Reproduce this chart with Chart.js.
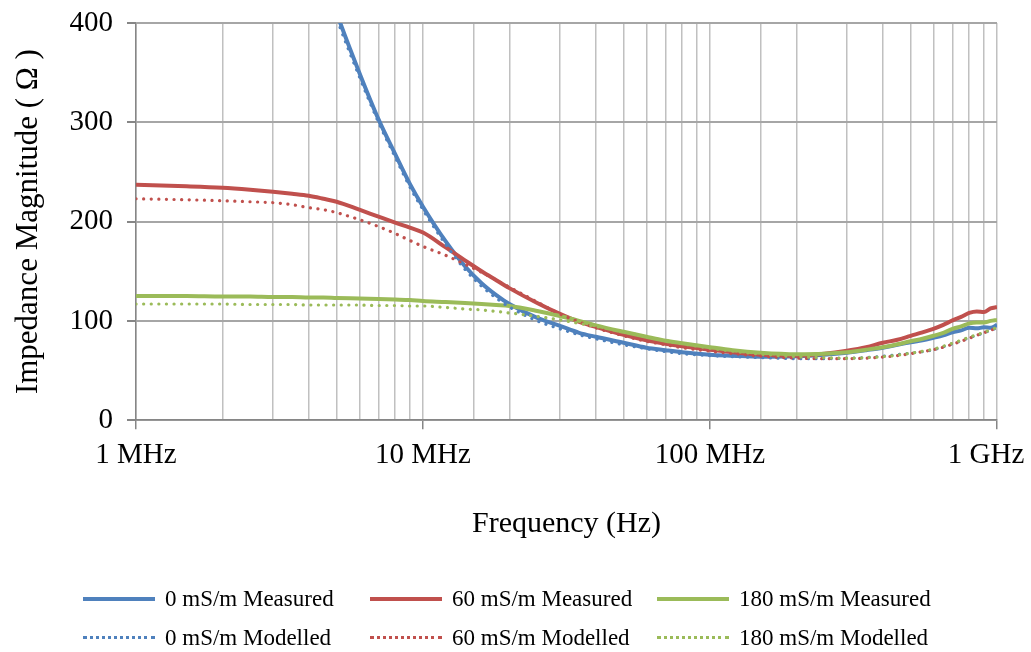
<!DOCTYPE html>
<html>
<head>
<meta charset="utf-8">
<script src="https://cdn.jsdelivr.net/npm/chart.js@4/dist/chart.umd.min.js"></script>
<style>
  html, body { margin: 0; padding: 0; background: #fff; }
  #wrap { position: relative; width: 1031px; height: 652px; }
  #legend {
    position: absolute; left: 83px; top: 586px;
    display: grid; grid-template-columns: 287px 287px 287px;
    row-gap: 14px;
    font-family: "Liberation Serif", "Times New Roman", serif;
    font-size: 23px; color: #000;
  }
  .item { display: flex; align-items: center; height: 25px; white-space: nowrap; }
  .mark { width: 72px; margin-right: 10px; }
  .solid { border-top: 4px solid; }
  .dotted { border-top: 3px dotted; }
</style>
</head>
<body>
<div id="wrap">
  <canvas id="chart" width="1031" height="652"></canvas>
  <div id="legend"></div>
</div>
<script>
"use strict";

// frequency in MHz (log axis)
const freqMHz = [1, 1.5, 2, 2.5, 3, 3.5, 4, 4.5, 5, 6, 7, 8, 9, 10, 12, 14, 16, 18, 20, 25, 30, 35, 40, 50, 60, 70, 80, 100, 120, 150,
  200, 250, 300, 350, 400, 450, 500, 550, 600, 650, 700, 750, 800, 850, 900, 950, 1000];

const measured0 = [null, null, null, null, null, null, 495, 448, 410, 350, 303, 268, 238, 215, 180, 155, 138, 126, 117, 103, 95, 88, 84, 78, 73, 70.5, 68.5, 66, 65, 64,
  64.5, 66, 68, 70.5, 73, 76, 78.5, 80.5, 83, 85.5, 88.5, 90.5, 93, 92.5, 93.5, 93, 96];
const measured60 = [237, 235.5, 234, 232, 230, 228, 226, 223, 220, 212, 205, 199, 194, 189, 174, 161, 150, 141, 133, 118, 107, 99, 94, 86, 80.5, 77, 74.5, 71, 68.5, 66,
  65, 67, 70, 73.5, 78, 81, 85, 88.5, 92, 96, 100.5, 104, 108, 109.5, 109, 112.5, 114];
const measured180 = [125, 125, 124.5, 124.5, 124, 124, 123.5, 123.5, 123, 122.5, 122, 121.5, 121, 120, 119, 118, 117, 116, 115, 110, 105, 100, 95.5, 89, 84, 80, 77.5, 73.5, 70.5, 68,
  66.5, 67, 68.5, 71, 73.5, 76.5, 79.5, 82, 85, 88, 92, 94.5, 97.5, 98.5, 98.5, 100, 101];

const modelled0 = [null, null, null, null, null, null, 490, 444, 405, 346, 300, 265, 235, 212, 177, 152, 135, 123, 114, 100, 92, 86, 82, 76, 72, 69, 67, 65, 64, 63,
  62, 62, 62.5, 63, 64.5, 66, 67.5, 69, 71, 74, 77, 80, 83, 85.5, 88, 90.5, 93];
const modelled60 = [223, 222, 221, 220, 219, 217, 214, 212, 209, 202, 195, 188, 181, 175, 166, 157, 149, 141, 134, 119, 107, 99, 93, 85, 79.5, 76, 73, 69.5, 67, 64.5,
  62.5, 62, 62, 62.5, 63.5, 65, 67, 69, 71, 73.5, 76.5, 79.5, 82.5, 85.5, 88, 90.5, 93];
const modelled180 = [117, 117, 117, 116.5, 116.5, 116.5, 116, 116, 116, 116, 115.5, 115.5, 115, 115, 113.5, 112, 111, 109.5, 108, 104.5, 101, 97.5, 94.5, 89, 84, 80, 77, 72.5, 69.5, 66.5,
  64, 63, 62.5, 63, 64, 65.5, 67.5, 69.5, 71.5, 74.5, 77.5, 80.5, 83.5, 86, 88.5, 91, 93.5];

const seriesNames = ["0 mS/m Measured", "60 mS/m Measured", "180 mS/m Measured",
  "0 mS/m Modelled", "60 mS/m Modelled", "180 mS/m Modelled"];
const seriesColors = ["#4F81BD", "#C0504D", "#9BBB59", "#4F81BD", "#C0504D", "#9BBB59"];
const seriesValues = [measured0, measured60, measured180, modelled0, modelled60, modelled180];

const xTickLabels = { 1: "1 MHz", 10: "10 MHz", 100: "100 MHz", 1000: "1 GHz   " };
const yTicks = [0, 100, 200, 300, 400];

const FONT = "'Liberation Serif', 'Times New Roman', serif";

function toPoints(values) {
  return freqMHz.map((f, i) => ({ x: f, y: values[i] }));
}

const datasets = seriesValues.map((values, i) => {
  const dotted = i >= 3;
  return {
    label: seriesNames[i],
    data: toPoints(values),
    borderColor: seriesColors[i],
    backgroundColor: seriesColors[i],
    borderWidth: dotted ? 3.2 : 4,
    borderDash: dotted ? [0.1, 7.5] : [],
    borderCapStyle: dotted ? "round" : "butt",
    pointRadius: 0,
    cubicInterpolationMode: "monotone",
    spanGaps: false,
    order: 6 - i
  };
});

const isDecade = v => Math.abs(Math.log10(v) - Math.round(Math.log10(v))) < 1e-9;

new Chart(document.getElementById("chart"), {
  type: "line",
  data: { datasets: datasets },
  options: {
    responsive: false,
    animation: false,
    layout: { padding: { top: 23, right: 34, bottom: 110, left: 0 } },
    plugins: { legend: { display: false }, tooltip: { enabled: false } },
    scales: {
      x: {
        type: "logarithmic",
        min: 1,
        max: 1000,
        border: { color: "#868686", width: 1.5 },
        grid: {
          color: "#c0c0c0",
          lineWidth: 1.5,
          tickLength: 9,
          tickColor: ctx => isDecade(ctx.tick.value) ? "#868686" : "rgba(0,0,0,0)"
        },
        ticks: {
          autoSkip: false,
          maxRotation: 0,
          padding: 9,
          color: "#000",
          font: { family: FONT, size: 29 },
          callback: function (value) {
            return xTickLabels[value] !== undefined && isDecade(value) ? xTickLabels[value] : "";
          }
        },
        title: {
          display: true,
          text: "Frequency (Hz)",
          color: "#000",
          font: { family: FONT, size: 30 },
          padding: { top: 24, bottom: 0 }
        },
        afterFit: scale => { scale.paddingRight = 0; }
      },
      y: {
        min: 0,
        max: 400,
        afterBuildTicks: scale => { scale.ticks = yTicks.map(v => ({ value: v })); },
        border: { color: "#868686", width: 1.5 },
        grid: {
          color: "#a6a6a6",
          lineWidth: 2,
          tickLength: 9,
          tickColor: "#868686"
        },
        ticks: {
          padding: 14,
          color: "#000",
          font: { family: FONT, size: 29 }
        },
        title: {
          display: true,
          text: "Impedance Magnitude ( \u03A9 )",
          color: "#000",
          font: { family: FONT, size: 31 },
          padding: { top: 10, bottom: 6 }
        },
        afterFit: scale => {
          scale.width = 136;
          scale.paddingTop = 0;
          scale.paddingBottom = 0;
        }
      }
    }
  }
});

// legend in three columns, like the original
const legend = document.getElementById("legend");
seriesNames.forEach((name, i) => {
  const item = document.createElement("div");
  item.className = "item";
  const mark = document.createElement("span");
  mark.className = "mark " + (i >= 3 ? "dotted" : "solid");
  mark.style.borderColor = seriesColors[i];
  const text = document.createElement("span");
  text.textContent = name;
  item.appendChild(mark);
  item.appendChild(text);
  legend.appendChild(item);
});
</script>
</body>
</html>
